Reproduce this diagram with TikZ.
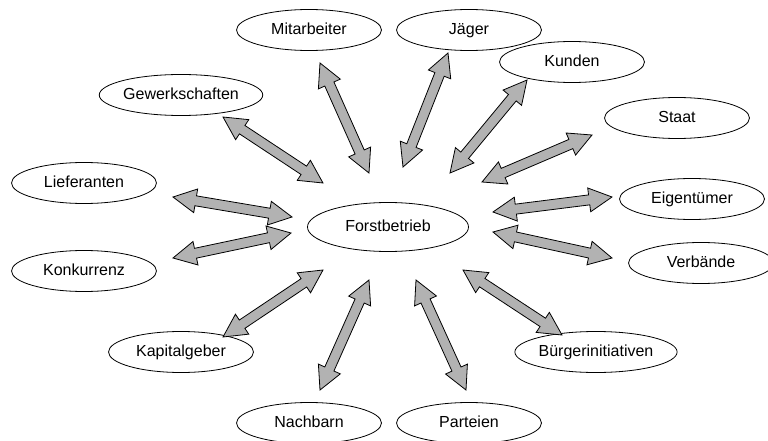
\documentclass[tikz,border=0pt]{standalone}
\usepackage{fontspec}
\setmainfont{Liberation Sans}
\usetikzlibrary{shapes.geometric,calc}

% Doppelpfeil als Blockpfeil zwischen zwei Punkten
\def\headlen{23pt}
\def\headwd{12pt}
\def\shaftwd{5pt}
\newcommand{\dblarrow}[2]{%
  \filldraw[pfeil] (#1)
    -- ($(#1)!\headlen!(#2)!\headwd!90:(#2)$)
    -- ($(#1)!\headlen!(#2)!\shaftwd!90:(#2)$)
    -- ($(#2)!\headlen!(#1)!\shaftwd!-90:(#1)$)
    -- ($(#2)!\headlen!(#1)!\headwd!-90:(#1)$)
    -- (#2)
    -- ($(#2)!\headlen!(#1)!\headwd!90:(#1)$)
    -- ($(#2)!\headlen!(#1)!\shaftwd!90:(#1)$)
    -- ($(#1)!\headlen!(#2)!\shaftwd!-90:(#2)$)
    -- ($(#1)!\headlen!(#2)!\headwd!-90:(#2)$)
    -- cycle;}

\begin{document}
\begin{tikzpicture}[x=1pt,y=-1pt,font=\fontsize{16}{19}\selectfont]
  \tikzstyle{akteur} = [draw, ellipse, line width=0.8pt, fill=white,
                        text height=11.5pt, text depth=3.4pt,
                        minimum width=145pt, minimum height=41pt, inner sep=0pt]
  \tikzstyle{pfeil} = [draw=black, fill=black!30, line width=0.8pt, line join=miter]
  \useasboundingbox (0,0) rectangle (768,441);

  \node[akteur, minimum width=161pt, minimum height=49pt] (forst) at (388,227) {Forstbetrieb};

  \foreach \n/\x/\y/\t in {gew/181/95/Gewerkschaften, lief/84/183/Lieferanten,
      konk/84/271/Konkurrenz, kap/181/352/Kapitalgeber, nach/309/423/Nachbarn,
      part/469/423/Parteien, buerg/596/352/Bürgerinitiativen, verb/701/263/Verbände,
      eig/692/199/Eigentümer, staat/677/118/Staat, kund/572/62/Kunden,
      jaeg/469/30/Jäger, mita/309/30/Mitarbeiter}{
    \node[akteur] (\n) at (\x,\y) {\t};
  }

  % Pfeilenden: aussen (a) und beim Forstbetrieb (b)
  \foreach \n/\ax/\ay/\bx/\by in {gew/223/117/323/183, lief/173/197/292/217,
      konk/173/258/291/233, kap/223/337/323/270, nach/320/390/369/280,
      part/466/390/416/280, buerg/562/335/463/270, verb/612/258/493/232,
      eig/612/197/493/212, staat/592/135/482/182, kund/527/80/450/173,
      jaeg/448/53/403/167, mita/320/63/369/173}{
    \coordinate (\n-a) at (\ax,\ay);
    \coordinate (\n-b) at (\bx,\by);
    \dblarrow{\n-a}{\n-b}
  }
\end{tikzpicture}
\end{document}
